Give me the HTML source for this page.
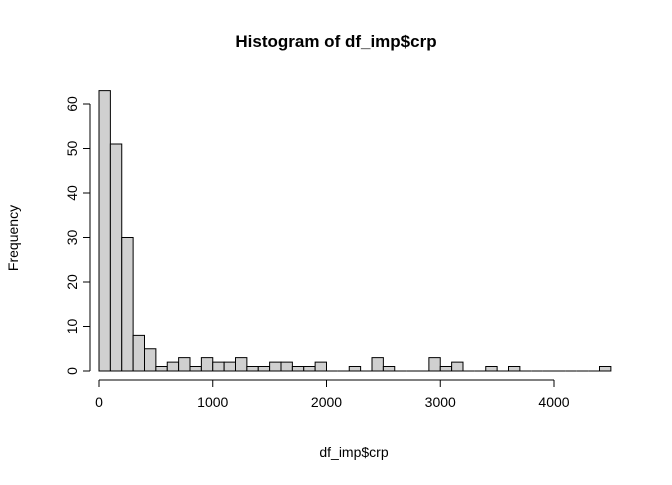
<!DOCTYPE html>
<html><head><meta charset="utf-8"><style>
body{margin:0;background:#fff;}
text{font-family:"Liberation Sans",Arial,sans-serif;}
</style></head><body>
<svg id="chart" width="672" height="480" viewBox="0 0 672 480">
<text x="336" y="47" text-anchor="middle" font-size="17" font-weight="bold">Histogram of df_imp$crp</text>
<text x="354" y="457" text-anchor="middle" font-size="14">df_imp$crp</text>
<text x="18" y="238" text-anchor="middle" font-size="14" transform="rotate(-90 18 238)">Frequency</text>
<g id="bars"></g><g id="axes"></g>
</svg>
<script>
const binStart = 0;
const binWidth = 100;
const counts = [63,51,30,8,5,1,2,3,1,3,2,2,3,1,1,2,2,1,1,2,0,0,1,0,3,1,0,0,0,3,1,2,0,0,1,0,1,0,0,0,0,0,0,0,1];
const xTicks = [0,1000,2000,3000,4000];
const yTicks = [0,10,20,30,40,50,60];
const NS="http://www.w3.org/2000/svg";
const sx=v=>99+v*(455/4000);
const sy=v=>371-v*(267/60);
const bars=document.getElementById('bars'), axes=document.getElementById('axes');
function mk(tag,attrs,parent){const e=document.createElementNS(NS,tag);for(const k in attrs)e.setAttribute(k,attrs[k]);parent.appendChild(e);return e;}
counts.forEach((c,i)=>{
  const x0=sx(binStart+i*binWidth), x1=sx(binStart+(i+1)*binWidth);
  const y0=sy(0), y1=sy(c);
  const r=mk('path',{d:`M${x0},${y0}L${x0},${y1}L${x1},${y1}L${x1},${y0}Z`,fill:'#d0d0d0',stroke:'#000','stroke-width':1},bars);
  
  
});
const xa=mk('g',{},axes);


mk('line',{x1:sx(xTicks[0]),x2:sx(xTicks[xTicks.length-1]),y1:380,y2:380,stroke:'#000'},xa);
xTicks.forEach(t=>{
  mk('line',{x1:sx(t),x2:sx(t),y1:380,y2:387,stroke:'#000'},xa);
  const tx=mk('text',{x:sx(t),y:407,'text-anchor':'middle','font-size':14},xa);tx.textContent=t;
  
  
});
const ya=mk('g',{},axes);


mk('line',{x1:90,x2:90,y1:sy(yTicks[0]),y2:sy(yTicks[yTicks.length-1]),stroke:'#000'},ya);
yTicks.forEach(t=>{
  mk('line',{x1:83,x2:90,y1:sy(t),y2:sy(t),stroke:'#000'},ya);
  const tx=mk('text',{x:77,y:sy(t),'text-anchor':'middle','font-size':14,transform:`rotate(-90 77 ${sy(t)})`},ya);tx.textContent=t;
  
  
});
</script>
</body></html>
